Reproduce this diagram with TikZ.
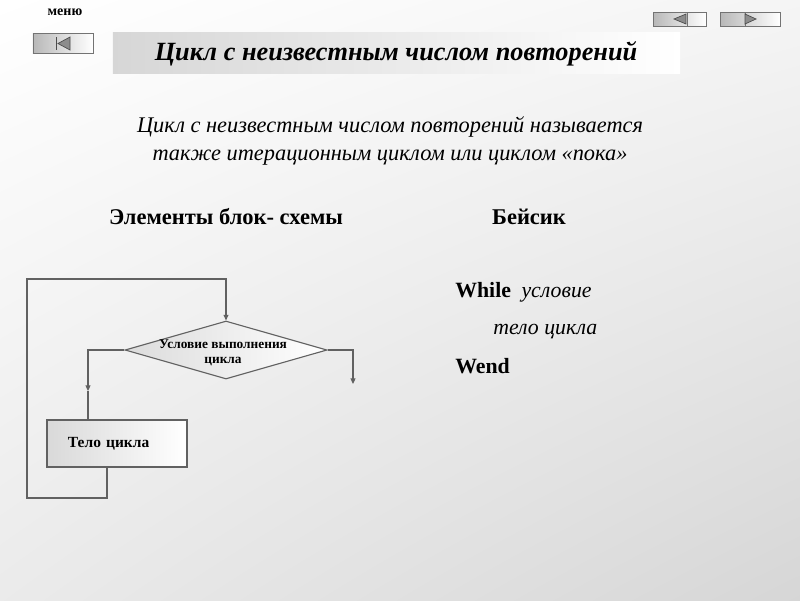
\documentclass[tikz,border=0pt]{standalone}
\usepackage{fontspec}
\setmainfont{Liberation Serif}
\usetikzlibrary{positioning,shapes.geometric,arrows.meta,shadings}

\begin{document}
\begin{tikzpicture}[x=0.025cm,y=-0.025cm,
	btn/.style={draw=black!55,line width=0.5pt,left color=black!28,right color=white,minimum height=0.35cm,inner sep=0},
	tri/.style={draw=black!70,fill=black!45,line width=0.5pt},
	line/.style={draw=black!62,line width=0.8pt},
	arr/.style={line,-{Triangle[length=4pt,width=3.5pt]}},
	cond/.style={diamond,draw=black!62,line width=0.8pt,left color=black!14,right color=white,minimum width=5.05cm,minimum height=1.45cm,inner sep=0},
	body/.style={rectangle,draw=black!62,line width=0.8pt,left color=black!15,right color=white,minimum width=3.5cm,minimum height=1.175cm,inner xsep=0.525cm,text width=2.45cm,align=left,font=\fontsize{11}{13}\bfseries},
	head/.style={font=\fontsize{16}{19}\bfseries},
	code/.style={font=\fontsize{15.5}{18}\bfseries,anchor=base west,inner sep=0}]

	% background and title
	\shade[upper left=white,upper right=black!4,lower left=black!8,lower right=black!16] (0,0) rectangle (800,600);
	\node[rectangle,left color=black!16,right color=white,minimum width=14.175cm,minimum height=1cm,inner sep=0] (titlebox) at (396.5,53) {};
	\node[font=\fontsize{18.7}{22}\bfseries\itshape] (title) at (396,54) {Цикл с неизвестным числом повторений};

	% navigation
	\node[font=\fontsize{10}{12}\bfseries] (menu) at (65,12) {меню};
	\node[btn,minimum width=1.5cm,minimum height=0.5cm] (home) at (63,43) {};
	\draw[black!70,line width=0.7pt] (56,37) -- (56,50);
	\draw[tri] (58,43.5) -- (70,37) -- (70,50) -- cycle;
	\node[btn,minimum width=1.325cm] (prev) at (679.5,19) {};
	\draw[black!55,line width=0.5pt] (687,12) -- (687,26);
	\draw[tri] (674,19) -- (686,14) -- (686,24) -- cycle;
	\node[btn,minimum width=1.5cm] (next) at (750,19) {};
	\draw[black!55,line width=0.5pt] (745,12) -- (745,26);
	\draw[tri] (756,19) -- (745,14) -- (745,24) -- cycle;

	\node[font=\fontsize{15.9}{20}\itshape,align=center] (intro) at (390,141) {Цикл с неизвестным числом повторений называется\\также итерационным циклом или циклом «пока»};
	\node[head] (elems) at (226,217) {Элементы блок- схемы};
	\node[head] (basic) at (529,217) {Бейсик};

	% flowchart
	\node[cond] (cond) at (226,350) {};
	\node[font=\fontsize{9.5}{11}\bfseries,align=center] (condtext) at (223,353) {Условие выполнения\\цикла};
	\node[body] (loop) at (117,443.5) {Тело цикла};
	\coordinate (lft) at (88,350);
	\coordinate (lmid) at (88,391);
	\coordinate (rgt) at (353,350);
	\coordinate (exit) at (353,384);
	\coordinate (bot) at (107,498);
	\coordinate (c1) at (27,498);
	\coordinate (c2) at (27,279);
	\coordinate (c3) at (226,279);
	\draw[arr] (cond.west) -- (lft) -- (lmid);
	\draw[line] (lmid) -- (lft |- loop.north);
	\draw[arr] (cond.east) -- (rgt) -- (exit);
	\draw[arr] (bot |- loop.south) -- (bot) -- (c1) -- (c2) -- (c3) -- (cond.north);

	% program text
	\node[code] (while) at (455,297) {While};
	\node[code,font=\fontsize{15.5}{18}\itshape] (wcond) [right=0.25cm of while.base east,anchor=base west] {условие};
	\node[code,font=\fontsize{15.5}{18}\itshape] (wbody) at (493,334) {тело цикла};
	\node[code] (wend) at (455,373) {Wend};
\end{tikzpicture}
\end{document}
